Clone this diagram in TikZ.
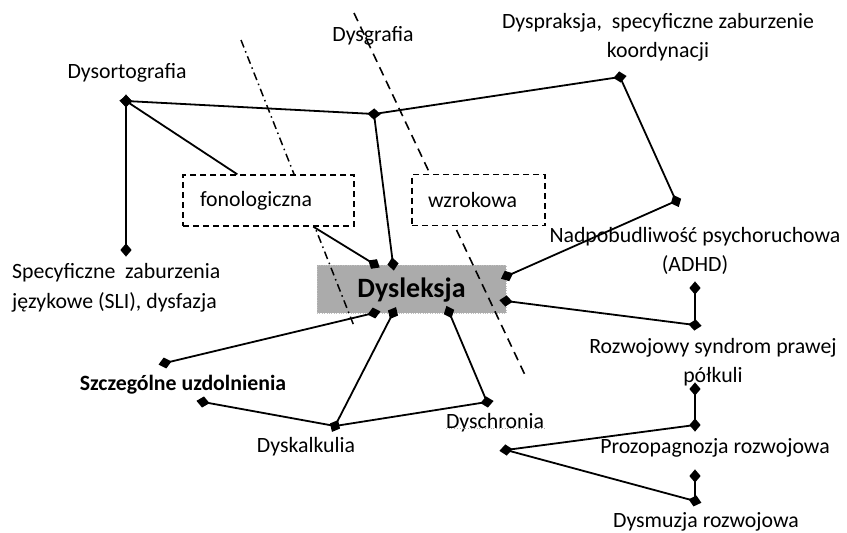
\documentclass[tikz,border=0pt]{standalone}
\usepackage{fontspec}
\setmainfont{Carlito}
\usetikzlibrary{shapes.geometric}
\begin{document}
\begin{tikzpicture}[x=1pt,y=-1pt,
  txt/.style={font=\fontsize{21.8}{29.5}\selectfont, inner sep=0pt},
  ed/.style={line width=1.8pt},
  mk/.style={diamond, fill=black, draw=none, inner sep=0pt, minimum width=14pt, minimum height=12pt},
  dbox/.style={draw, fill=white, line width=1.4pt, dash pattern=on 6pt off 4pt, minimum height=51pt, inner ysep=0pt, align=left, font=\fontsize{21.8}{26}\selectfont},
  sep1/.style={line width=1.6pt, dash pattern=on 9pt off 6pt},
  sep2/.style={line width=1.5pt, dash pattern=on 8pt off 4pt on 1.5pt off 4pt}]
\useasboundingbox (0,0) rectangle (847,533);

% central box
\node[fill=black!33, draw=black!25, dotted, minimum width=189pt, minimum height=48pt, inner sep=0pt] (dys) at (411.5,289) {};
\node[font=\bfseries\fontsize{28}{32}\selectfont, inner sep=0pt] (dyst) at (411.5,290) {Dysleksja};

% separator lines
\coordinate (s1a) at (241,40);
\coordinate (s1b) at (354,326);
\coordinate (s2a) at (354,13);
\coordinate (s2b) at (525,375);
\draw[sep2] (s1a) -- (s1b);
\draw[sep1] (s2a) -- (s2b);

% dashed boxes
\node[dbox, text width=137pt, inner xsep=17pt] (fon) at (268.5,200.5) {fonologiczna};
\node[dbox, text width=101pt, inner xsep=16pt] (wz) at (478.5,200) {wzrokowa};

% marker coordinates
\coordinate (m1) at (126,101);
\coordinate (m2) at (126,250);
\coordinate (m3) at (374,114);
\coordinate (m4) at (620,77);
\coordinate (m5) at (676,201);
\coordinate (d1) at (374,264);
\coordinate (d2) at (393,264);
\coordinate (d3) at (507,276);
\coordinate (d4) at (506,301);
\coordinate (d5) at (374,313);
\coordinate (d6) at (393,313);
\coordinate (d7) at (449,312);
\coordinate (m6) at (165,363);
\coordinate (m7) at (203,402);
\coordinate (m8) at (335,426);
\coordinate (m9) at (487,402);
\coordinate (r1) at (695,288);
\coordinate (r2) at (695,325);
\coordinate (r3) at (695,389);
\coordinate (r4) at (695,425);
\coordinate (h) at (506,450);
\coordinate (r5) at (695,476);
\coordinate (r6) at (695,501);

% connectors
\draw[ed] (m1) -- node[mk,pos=0,sloped]{} node[mk,pos=1,sloped]{} (m2);
\draw[ed] (m1) -- ([xshift=55pt]fon.north west);
\draw[ed] (m1) -- node[mk,pos=0,sloped]{} node[mk,pos=1,sloped]{} (m3);
\draw[ed] (m3) -- node[mk,pos=1,sloped]{} (m4);
\draw[ed] (m3) -- node[mk,pos=1,sloped]{} (d2);
\draw[ed] (m4) -- node[mk,pos=1,sloped]{} (m5);
\draw[ed] (m5) -- node[mk,pos=1,sloped]{} (d3);
\draw[ed] ([xshift=131pt]fon.south west) -- node[mk,pos=1,sloped]{} (d1);
\draw[ed] (d5) -- node[mk,pos=0,sloped]{} node[mk,pos=1,sloped]{} (m6);
\draw[ed] (d6) -- node[mk,pos=0,sloped]{} node[mk,pos=1,sloped]{} (m8);
\draw[ed] (m7) -- node[mk,pos=0,sloped]{} (m8);
\draw[ed] (m8) -- node[mk,pos=1,sloped]{} (m9);
\draw[ed] (d7) -- node[mk,pos=0,sloped]{} (m9);
\draw[ed] (d4) -- node[mk,pos=0,sloped]{} node[mk,pos=1,sloped]{} (r2);
\draw[ed] (r1) -- node[mk,pos=0,sloped]{} (r2);
\draw[ed] (r3) -- node[mk,pos=0,sloped]{} node[mk,pos=1,sloped]{} (r4);
\draw[ed] (h) -- node[mk,pos=0,sloped]{} (r4);
\draw[ed] (h) -- node[mk,pos=1,sloped]{} (r6);
\draw[ed] (r5) -- node[mk,pos=0,sloped]{} (r6);

% labels
\node[txt] (t1) at (373,36) {Dysgrafia};
\node[txt] (t2) at (127,73) {Dysortografia};
\node[txt, align=center] (t3) at (658,37.5) {Dyspraksja,\ \ specyficzne zaburzenie\\koordynacji};
\node[txt, align=center] (t4) at (695,251) {Nadpobudliwość psychoruchowa\\(ADHD)};
\node[txt, align=left, anchor=west] (t5) at (12,288) {Specyficzne\ \ zaburzenia\\językowe (SLI), dysfazja};
\node[txt, font=\bfseries\fontsize{21.8}{26}\selectfont] (t6) at (183,385) {Szczególne uzdolnienia};
\node[txt] (t7) at (306,447) {Dyskalkulia};
\node[txt] (t8) at (495,423) {Dyschronia};
\draw[black!35, dotted, line width=0.8pt] ([yshift=4pt]t8.south west) -- ([yshift=4pt]t8.south east);
\node[txt, align=center] (t9) at (713,362) {Rozwojowy syndrom prawej\\półkuli};
\node[txt] (t10) at (715,448) {Prozopagnozja rozwojowa};
\node[txt] (t11) at (706,522) {Dysmuzja rozwojowa};
\end{tikzpicture}
\end{document}
